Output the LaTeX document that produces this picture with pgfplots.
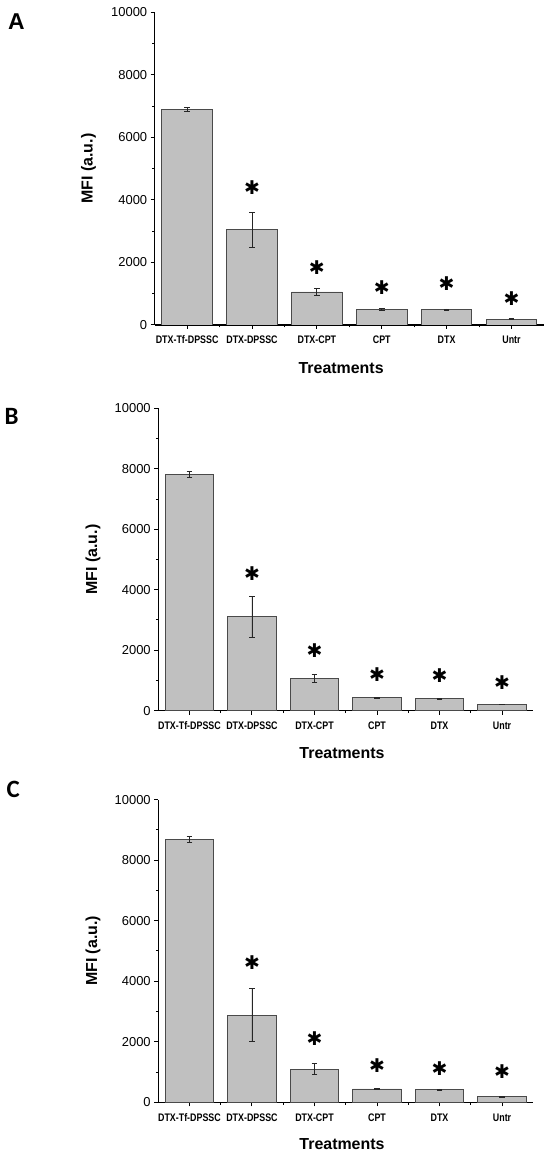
\documentclass[border=0pt]{standalone}
\usepackage{pgfplots}
\pgfplotsset{compat=1.18}
\usepackage{pgfplotstable}
\usepackage{fontspec}
\setmainfont{Liberation Sans}
\newfontfamily\carlito{Carlito}
\newfontfamily\narrowbold[FakeStretch=0.81]{Liberation Sans Bold}
\newfontfamily\dejavu{DejaVu Sans}

\definecolor{barfill}{HTML}{C0C0C0}
\definecolor{baredge}{HTML}{4A4A4A}

\pgfplotstableread{
x y e
0 6890 64
1 3040 565
2 1056 100
3 500 18
4 495 18
5 185 10
}\dataA
\pgfplotstableread{
x y
1 4384
2 1834
3 1206
4 1333
5 832
}\starA
\pgfplotstableread{
x y e
0 7820 90
1 3100 690
2 1070 140
3 430 15
4 400 15
5 210 10
}\dataB
\pgfplotstableread{
x y
1 4543
2 1984
3 1190
4 1147
5 926
}\starB
\pgfplotstableread{
x y e
0 8680 95
1 2880 880
2 1100 190
3 440 20
4 420 20
5 186 10
}\dataC
\pgfplotstableread{
x y
1 4613
2 2115
3 1210
4 1123
5 1011
}\starC

\pgfplotsset{
  mfi/.style={
    scale only axis,
    axis x line*=bottom, axis y line*=left,
    xmin=-0.5, xmax=5.5, ymin=0, ymax=10000,
    xtick={0,...,5},
    xticklabels={DTX-Tf-DPSSC,DTX-DPSSC,DTX-CPT,CPT,DTX,Untr},
    minor xtick={0.5,1.5,2.5,3.5,4.5},
    ytick={0,2000,...,10000},
    minor ytick={1000,3000,...,9000},
    tick align=outside,
    major tick length=4bp, minor tick length=2.4bp,
    every tick/.style={black, line width=1bp},
    axis line style={line width=1.2bp, black},
    scaled y ticks=false,
    /pgf/number format/1000 sep={},
    /pgf/number format/assume math mode=true,
    yticklabel style={font=\fontsize{13}{13}\selectfont},
    xticklabel style={font=\narrowbold\fontsize{11}{11}\selectfont, anchor=center, yshift=-11bp},
    label style={font=\bfseries\fontsize{16}{16}\selectfont},
    xlabel={Treatments},
    ylabel={MFI (a.u.)},
  },
  bars/.style={ybar, bar width=0.78, fill=barfill, draw=baredge, line width=0.9bp,
    error bars/.cd, y dir=both, y explicit,
    error bar style={line width=0.8bp, black!85},
    error mark options={rotate=90, mark size=2.8bp, line width=0.8bp, black!85}},
  stars/.style={draw=none, mark=none, only marks,
    nodes near coords={\dejavu\fontsize{19}{19}\selectfont ✱},
    every node near coord/.style={anchor=center, inner sep=0pt}},
}

\begin{document}
\begin{tikzpicture}
\useasboundingbox (0,0) rectangle (550bp,1154bp);

% Panel A
\begin{axis}[mfi, at={(154.7bp,829bp)}, anchor=south west,
  width=389.2bp, height=312.7bp,
  xlabel style={at={(axis description cs:0.479,-0.1375)}, anchor=center},
  ylabel style={at={(axis description cs:-0.170,0.5)}, anchor=center}]
\addplot[bars] table[x=x, y=y, y error=e]{\dataA};
\addplot[stars] table[x=x, y=y]{\starA};
\end{axis}

% Panel B
\begin{axis}[mfi, at={(158.2bp,443.3bp)}, anchor=south west,
  width=375.1bp, height=302.4bp,
  xlabel style={at={(axis description cs:0.49,-0.139)}, anchor=center},
  ylabel style={at={(axis description cs:-0.174,0.5)}, anchor=center}]
\addplot[bars] table[x=x, y=y, y error=e]{\dataB};
\addplot[stars] table[x=x, y=y]{\starB};
\end{axis}

% Panel C
\begin{axis}[mfi, at={(158.2bp,51.7bp)}, anchor=south west,
  width=375.1bp, height=302.6bp,
  xlabel style={at={(axis description cs:0.49,-0.139)}, anchor=center},
  ylabel style={at={(axis description cs:-0.174,0.5)}, anchor=center}]
\addplot[bars] table[x=x, y=y, y error=e]{\dataC};
\addplot[stars] table[x=x, y=y]{\starC};
\end{axis}

\node[anchor=base west, inner sep=0pt, font=\bfseries\fontsize{23}{23}\selectfont] at (8bp,1124.7bp) {A};
\node[anchor=base west, inner sep=0pt, font=\carlito\bfseries\fontsize{25}{25}\selectfont] at (4.5bp,729bp) {B};
\node[anchor=base west, inner sep=0pt, font=\carlito\bfseries\fontsize{25}{25}\selectfont] at (6.5bp,356bp) {C};
\end{tikzpicture}
\end{document}
